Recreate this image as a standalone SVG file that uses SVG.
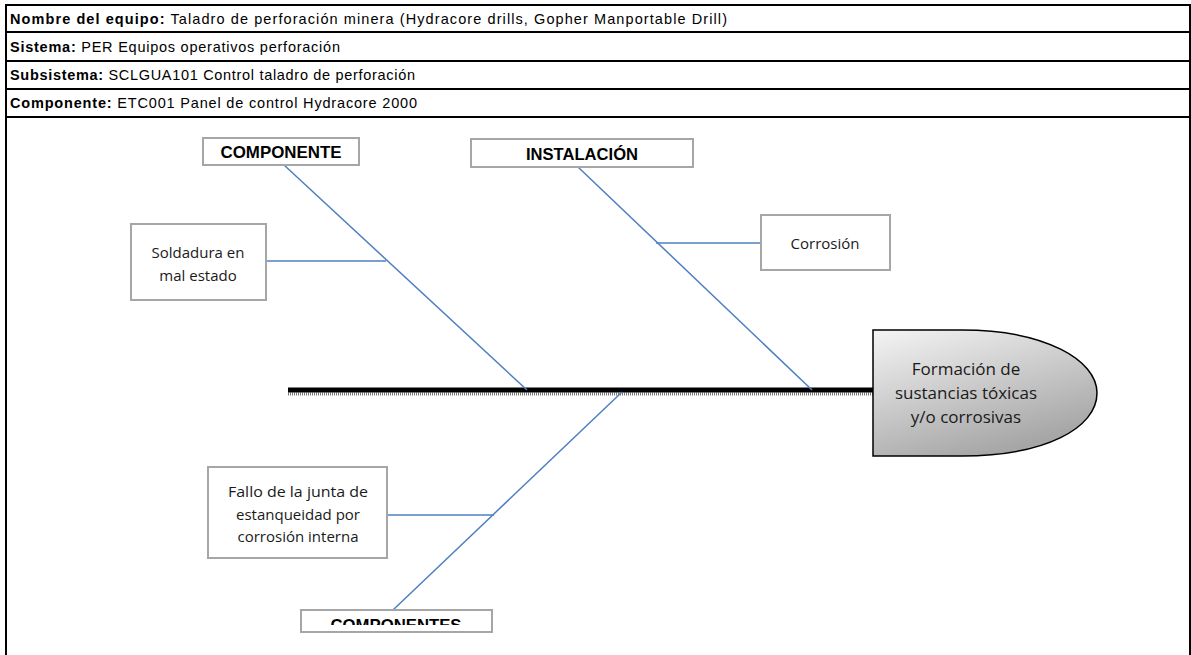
<svg xmlns="http://www.w3.org/2000/svg" width="1191" height="655" viewBox="0 0 1191 655">
<defs>
<style>
.hdr{font-family:"Liberation Sans",Arial,sans-serif;font-size:14.5px;fill:#000}
.hdr .b{font-weight:bold}
.rowline{stroke:#000;stroke-width:2}
.box{fill:#fff;stroke:#a6a6a6;stroke-width:2}
.cat{font-family:"Liberation Sans",Arial,sans-serif;font-size:16.5px;font-weight:bold;fill:#000;text-anchor:middle}
.lbl{font-family:"Open Sans","Liberation Sans",sans-serif;font-size:15px;fill:#1a1a1a;text-anchor:middle}
.bone{stroke:#4f7fbf;stroke-width:1.5;fill:none}
.head{font-family:"Open Sans","Liberation Sans",sans-serif;font-size:17px;fill:#1a1a1a;text-anchor:middle}
</style>
<linearGradient id="hg" x1="0" y1="0" x2="0.5" y2="1">
<stop offset="0" stop-color="#f4f4f4"/>
<stop offset="1" stop-color="#a6a6a6"/>
</linearGradient>
<clipPath id="clipC"><rect x="301" y="610" width="192" height="15"/></clipPath>
</defs>
<rect x="0" y="0" width="1191" height="655" fill="#fff"/>
<g id="header">
<rect x="6" y="5" width="1184" height="660" fill="none" stroke="#000" stroke-width="2"/>
<line class="rowline" x1="6" y1="32" x2="1190" y2="32"/>
<line class="rowline" x1="6" y1="61" x2="1190" y2="61"/>
<line class="rowline" x1="6" y1="89" x2="1190" y2="89"/>
<line class="rowline" x1="6" y1="117" x2="1190" y2="117"/>
<text class="hdr" x="10" y="24" textLength="717" lengthAdjust="spacing"><tspan class="b">Nombre del equipo:</tspan> Taladro de perforación minera (Hydracore drills, Gopher Manportable Drill)</text>
<text class="hdr" x="10" y="52" textLength="330" lengthAdjust="spacing"><tspan class="b">Sistema:</tspan> PER Equipos operativos perforación</text>
<text class="hdr" x="10" y="80" textLength="405" lengthAdjust="spacing"><tspan class="b">Subsistema:</tspan> SCLGUA101 Control taladro de perforación</text>
<text class="hdr" x="10" y="108" textLength="407" lengthAdjust="spacing"><tspan class="b">Componente:</tspan> ETC001 Panel de control Hydracore 2000</text>
</g>
<g id="connectors">
<line x1="288" y1="394" x2="873" y2="394" stroke="#777" stroke-width="3" stroke-dasharray="1,1"/>
<line x1="288" y1="390" x2="873" y2="390" stroke="#000" stroke-width="5"/>
<line class="bone" x1="284" y1="165" x2="527" y2="390"/>
<line class="bone" x1="578" y1="167" x2="812" y2="390"/>
<line class="bone" x1="622" y1="392" x2="393" y2="610"/>
<line class="bone" x1="266" y1="261" x2="386" y2="261"/>
<line class="bone" x1="656" y1="243" x2="761" y2="243"/>
<line class="bone" x1="387" y1="515" x2="494" y2="515"/>
</g>
<g id="cat-componente">
<rect class="box" x="203" y="138" width="156" height="27"/>
<text class="cat" x="281" y="158" textLength="121" lengthAdjust="spacingAndGlyphs">COMPONENTE</text>
</g>
<g id="cat-instalacion">
<rect class="box" x="471" y="139" width="222" height="28"/>
<text class="cat" x="582" y="160" textLength="112" lengthAdjust="spacingAndGlyphs">INSTALACIÓN</text>
</g>
<g id="cat-componentes">
<rect class="box" x="301" y="610" width="191" height="22"/>
<text class="cat" x="396" y="631" clip-path="url(#clipC)" textLength="131" lengthAdjust="spacingAndGlyphs">COMPONENTES</text>
</g>
<g id="cause-soldadura">
<rect class="box" x="131" y="224" width="135" height="76"/>
<text class="lbl" x="198" y="258">Soldadura en</text>
<text class="lbl" x="198" y="281">mal estado</text>
</g>
<g id="cause-corrosion">
<rect class="box" x="761" y="215" width="129" height="55"/>
<text class="lbl" x="825" y="249">Corrosión</text>
</g>
<g id="cause-fallo">
<rect class="box" x="208" y="467" width="179" height="91"/>
<text class="lbl" x="298" y="497" textLength="140" lengthAdjust="spacingAndGlyphs">Fallo de la junta de</text>
<text class="lbl" x="298" y="520">estanqueidad por</text>
<text class="lbl" x="298" y="542">corrosión interna</text>
</g>
<g id="effect">
<path d="M873,330 L962,330 C1045,330 1097,360 1097,393 C1097,428 1045,456 962,456 L873,456 Z" fill="url(#hg)" stroke="#000" stroke-width="1.5"/>
<text class="head" x="966" y="375">Formación de</text>
<text class="head" x="966" y="399">sustancias tóxicas</text>
<text class="head" x="966" y="423">y/o corrosivas</text>
</g>
</svg>
